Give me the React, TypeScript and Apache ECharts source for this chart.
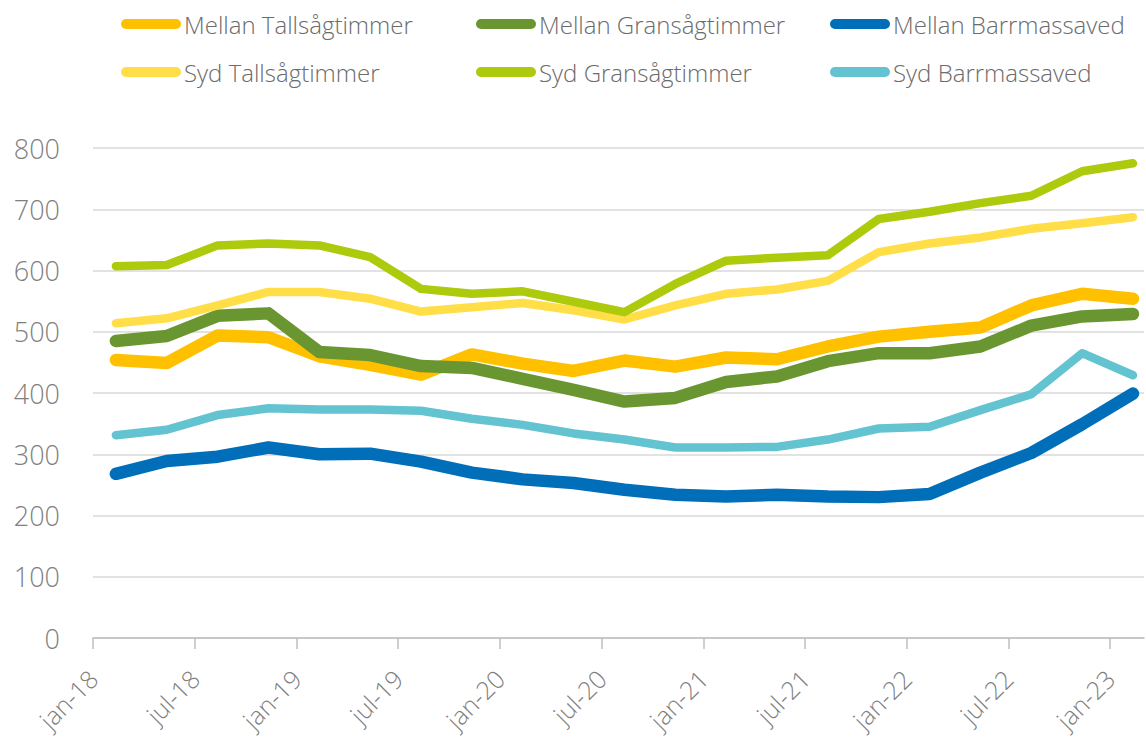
import React, { useEffect, useRef } from "react";
import * as echarts from "echarts";

// Quarterly observations, Q1 2018 .. Q1 2023
const quarters = [
  "2018 Q1", "2018 Q2", "2018 Q3", "2018 Q4",
  "2019 Q1", "2019 Q2", "2019 Q3", "2019 Q4",
  "2020 Q1", "2020 Q2", "2020 Q3", "2020 Q4",
  "2021 Q1", "2021 Q2", "2021 Q3", "2021 Q4",
  "2022 Q1", "2022 Q2", "2022 Q3", "2022 Q4",
  "2023 Q1",
];

const tickLabels = [
  "jan-18", "jul-18", "jan-19", "jul-19", "jan-20", "jul-20",
  "jan-21", "jul-21", "jan-22", "jul-22", "jan-23",
];

const mellanTall = [454, 449, 494, 491, 460, 446, 430, 463, 448, 436, 453, 443, 458, 455, 476, 492, 500, 507, 543, 562, 554];
const mellanGran = [485, 493, 526, 530, 467, 462, 444, 441, 423, 405, 386, 392, 418, 427, 452, 465, 465, 476, 510, 525, 529];
const mellanBarr = [268, 289, 296, 311, 300, 301, 288, 270, 259, 253, 242, 234, 231, 234, 231, 230, 235, 270, 302, 349, 399];
const sydTall = [514, 522, 543, 565, 565, 554, 533, 540, 547, 535, 520, 543, 562, 569, 583, 630, 644, 654, 668, 677, 687];
const sydGran = [607, 609, 641, 644, 641, 622, 570, 562, 566, 549, 532, 578, 616, 621, 625, 684, 696, 710, 722, 762, 775];
const sydBarr = [331, 340, 364, 375, 373, 373, 371, 358, 348, 334, 324, 311, 311, 312, 324, 342, 345, 372, 398, 465, 429];

const seriesDefs = [
  { name: "Mellan Tallsågtimmer", values: mellanTall, color: "#FFC000", width: 12.5 },
  { name: "Mellan Gransågtimmer", values: mellanGran, color: "#6A9632", width: 12.5 },
  { name: "Mellan Barrmassaved", values: mellanBarr, color: "#006EB8", width: 12.5 },
  { name: "Syd Tallsågtimmer", values: sydTall, color: "#FFDE47", width: 8.5 },
  { name: "Syd Gransågtimmer", values: sydGran, color: "#ADCA0C", width: 8.5 },
  { name: "Syd Barrmassaved", values: sydBarr, color: "#63C3D1", width: 8.5 },
];

// month offset (from jan-18) of each quarterly observation
const monthOf = (i: number) => i * 3 + 1.35;

const FONT = "'Open Sans', 'Noto Sans', sans-serif";

export default function App() {
  const ref = useRef<HTMLDivElement>(null);

  useEffect(() => {
    if (!ref.current) return;
    const chart = echarts.init(ref.current, null, { renderer: "svg" });

    const legendLeft = [121, 476, 830];
    const legendTop = [12, 60];
    const icon =
      "path://M5,0 L55,0 A5,5 0 0 1 55,10 L5,10 A5,5 0 0 1 5,0 Z";

    const legends = seriesDefs.map((s, k) => ({
      show: true,
      data: [s.name],
      left: legendLeft[k % 3],
      top: legendTop[Math.floor(k / 3)],
      padding: 0,
      icon,
      itemWidth: 60,
      itemHeight: 11,
      itemGap: 0,
      selectedMode: false,
      itemStyle: { borderWidth: 0 },
      textStyle: {
        fontFamily: FONT,
        fontWeight: 300,
        fontSize: 24,
        color: "#6b6b6b",
        padding: [0, 0, 0, -2],
      },
    }));

    const monthTicks = tickLabels.map((_, i) => i * 6);

    chart.setOption({
      animation: false,
      backgroundColor: "#ffffff",
      textStyle: { fontFamily: FONT },
      legend: legends,
      grid: {
        left: 93,
        right: 2,
        top: 148,
        bottom: 100,
        containLabel: false,
        outerBoundsMode: "none",
      },
      xAxis: {
        type: "value",
        min: 0,
        max: 62,
        interval: 6,
        axisLine: { show: true, lineStyle: { color: "#BFBFBF", width: 1.5 } },
        axisTick: {
          show: true,
          length: 11,
          lineStyle: { color: "#BFBFBF", width: 1.5 },
          customValues: monthTicks,
        },
        axisLabel: {
          show: true,
          customValues: monthTicks,
          rotate: 45,
          margin: 36,
          fontFamily: FONT,
          fontWeight: 300,
          fontSize: 25,
          color: "#7f7f7f",
          formatter: (v: number) => tickLabels[Math.round(v / 6)] ?? "",
        },
        splitLine: { show: false },
      },
      yAxis: {
        type: "value",
        min: 0,
        max: 800,
        interval: 100,
        axisLine: { show: false },
        axisTick: { show: false },
        axisLabel: {
          margin: 33,
          fontFamily: FONT,
          fontWeight: 300,
          fontSize: 27,
          color: "#7f7f7f",
        },
        splitLine: { show: true, lineStyle: { color: "#D9D9D9", width: 1.5 } },
      },
      series: seriesDefs.map((s) => ({
        name: s.name,
        type: "line",
        symbol: "none",
        showSymbol: false,
        color: s.color,
        itemStyle: { color: s.color },
        lineStyle: { color: s.color, width: s.width, cap: "round", join: "round" },
        data: s.values.map((v, i) => [monthOf(i), v]),
        z: 2,
      })),
    });

    return () => chart.dispose();
  }, []);

  return (
    <div
      ref={ref}
      style={{ position: "absolute", left: 0, top: 0, width: 1146, height: 738 }}
    />
  );
}
